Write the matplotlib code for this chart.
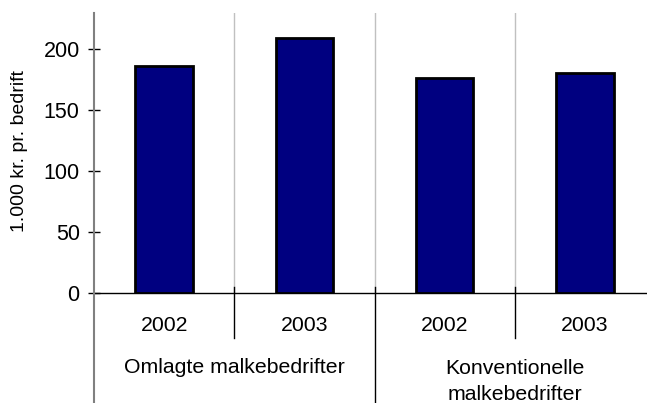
import matplotlib
matplotlib.use('Agg')
import matplotlib.pyplot as plt
import matplotlib.transforms as mtransforms
from matplotlib.lines import Line2D

plt.rcParams['font.family'] = ['Liberation Sans', 'DejaVu Sans']

# data
years = ['2002', '2003', '2002', '2003']
values = [186, 209, 176, 180]
groups = ['Omlagte malkebedrifter', 'Konventionelle\nmalkebedrifter']
ylabel = '1.000 kr. pr. bedrift'

W, H = 647, 403
fig = plt.figure(figsize=(W / 100, H / 100), dpi=100)

# axes placed in pixels (plot area runs past the right edge, as in the source)
left, right, top, bottom = 94, 655, 13, 293
ax = fig.add_axes([left / W, 1 - bottom / H, (right - left) / W, (bottom - top) / H])

x = list(range(len(values)))
ax.bar(x, values, width=0.41, color='#000080', edgecolor='black', linewidth=2, zorder=3)

ax.set_xlim(-0.5, len(values) - 0.5)
ax.set_ylim(0, 229.5)

# light grey separators inside plot
for sx in [0.5, 1.5, 2.5]:
    ax.axvline(sx, color='#c0c0c0', linewidth=1, zorder=1)

for s in ['top', 'right']:
    ax.spines[s].set_visible(False)
ax.spines['left'].set_visible(False)
ax.spines['bottom'].set_color('black')
ax.spines['bottom'].set_linewidth(1)

# y axis line running to the bottom of the figure
ax.add_line(Line2D([0, 0], [1, -0.4], transform=ax.transAxes, color='#808080',
                   linewidth=1.5, clip_on=False, zorder=4))

ax.set_yticks([0, 50, 100, 150, 200])
ax.tick_params(axis='y', direction='inout', length=8.6, width=1, color='black',
               labelsize=15.5, pad=6)
ax.set_xticks([])

trans = mtransforms.blended_transform_factory(ax.transData, ax.transAxes)
fs = 15.3
# year labels
for xi, yr in zip(x, years):
    ax.text(xi, -0.136, yr, transform=trans, ha='center', va='baseline', fontsize=fs)
# group labels
ax.text(0.5, -0.286, groups[0], transform=trans, ha='center', va='baseline', fontsize=fs)
g2a, g2b = groups[1].split('\n')
ax.text(2.5, -0.289, g2a, transform=trans, ha='center', va='baseline', fontsize=fs)
ax.text(2.5, -0.382, g2b, transform=trans, ha='center', va='baseline', fontsize=fs)

# black separators below axis
for sx, yb in [(0.5, -0.161), (1.5, -0.4), (2.5, -0.161)]:
    ax.add_line(Line2D([sx, sx], [0.021, yb], transform=trans, color='black',
                       linewidth=1, clip_on=False))

fig.text(20 / W, 1 - 151 / H, ylabel, rotation=90, ha='center', va='center', fontsize=14)

fig.savefig('out.png', dpi=100)
